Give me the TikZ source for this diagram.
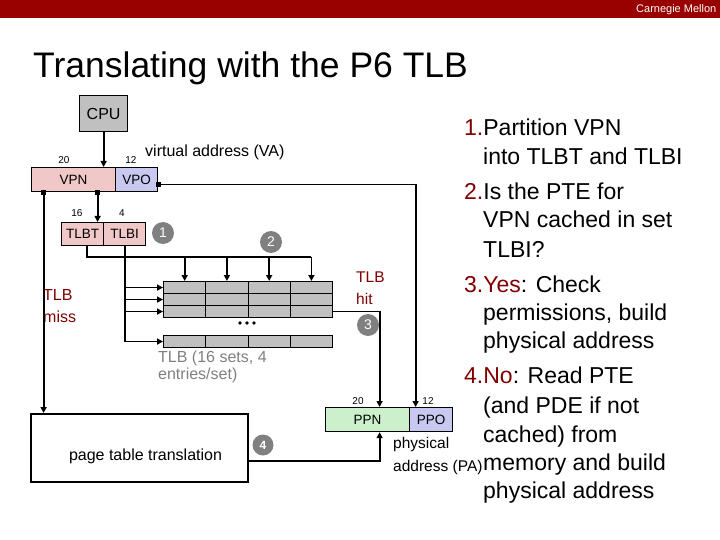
\documentclass[tikz,border=0pt]{standalone}
\usepackage{fontspec}
\setmainfont{Liberation Sans}
\usetikzlibrary{arrows.meta}
\definecolor{hdr}{RGB}{153,0,0}
\definecolor{dred}{RGB}{128,0,0}
\definecolor{vpnpink}{RGB}{240,200,200}
\definecolor{lav}{RGB}{200,200,240}
\definecolor{pgreen}{RGB}{204,240,204}
\definecolor{lgray}{RGB}{192,192,192}
\definecolor{mgray}{RGB}{128,128,128}
\newcommand{\fs}[1]{\fontsize{#1}{#1}\selectfont}
\begin{document}
\begin{tikzpicture}[x=1pt,y=-1pt,
  box/.style={draw=black, line width=1.2pt, inner sep=0pt, anchor=north west, font=\fs{13.5}},
  cell/.style={draw=black, line width=1.1pt, fill=lgray, inner sep=0pt, anchor=north west, minimum width=42.25pt, minimum height=12pt},
  wire/.style={line width=1.8pt},
  arr/.style={line width=1.8pt, -{Triangle[length=6pt,width=6pt]}},
  dot/.style={fill=black, rectangle, minimum size=5pt, inner sep=0pt},
  circ/.style={circle, fill=mgray, minimum size=22pt, inner sep=0pt, text=white, font=\fs{14}},
  txt/.style={inner sep=0pt, anchor=base west},
  small/.style={inner sep=0pt, font=\fs{10}},
  rt/.style={inner sep=0pt, anchor=base west, font=\fs{23}},
]
\useasboundingbox (0,0) rectangle (720,540);
% header
\fill[hdr] (0,0) rectangle (720,18);
\node[txt, text=white, font=\fs{11}] (brand) at (636,12.5) {Carnegie Mellon};
\node[txt, font=\fs{35.5}] (title) at (33,78) {Translating with the P6 TLB};

% CPU and virtual address
\node[box, fill=lgray, minimum width=48pt, minimum height=36pt, font=\fs{16}] (cpu) at (79,95) {CPU};
\node[box, fill=vpnpink, minimum width=84pt, minimum height=24pt] (vpn) at (31,167) {VPN};
\node[box, fill=lav, minimum width=42pt, minimum height=24pt] (vpo) at (115,167) {VPO};
\node[small] (n20a) at (64,160) {20};
\node[small] (n12a) at (131,160) {12};
\node[txt, font=\fs{16}] (va) at (145,157) {virtual address (VA)};

\node[box, fill=vpnpink, minimum width=42pt, minimum height=23pt] (tlbt) at (61,222) {TLBT};
\node[box, fill=vpnpink, minimum width=42pt, minimum height=23pt] (tlbi) at (103,222) {TLBI};
\node[small] (n16) at (77,213) {16};
\node[small] (n4) at (122,213) {4};

% TLB
\foreach \r/\y in {1/281,2/293,3/305,4/335}{
  \foreach \c in {1,...,4}{
    \node[cell] (t\r\c) at ({163+42.25*(\c-1)},\y) {};
  }
}
\fill (240,323) circle (1.8);
\fill (247,323) circle (1.8);
\fill (254,323) circle (1.8);
\node[txt, text=mgray, font=\fs{16}] (tlbcap1) at (158,362) {TLB (16 sets, 4};
\node[txt, text=mgray, font=\fs{16}] (tlbcap2) at (158,379) {entries/set)};

% physical address
\node[box, fill=pgreen, minimum width=84pt, minimum height=24pt] (ppn) at (325,407) {PPN};
\node[box, fill=lav, minimum width=43pt, minimum height=24pt] (ppo) at (409,407) {PPO};
\node[small] (n20b) at (358,401) {20};
\node[small] (n12b) at (428,401) {12};
\node[txt, font=\fs{15.5}] (pa1) at (393,448) {physical};
\node[txt, font=\fs{15.5}] (pa2) at (393,471) {address (PA)};

% page table translation
\node[box, line width=1.6pt, minimum width=217pt, minimum height=68pt] (ptt) at (30,413) {};
\node[inner sep=0pt, font=\fs{16}] (pttl) at (145.5,456) {page table translation};

% labels
\node[txt, text=dred, font=\fs{16}] (miss1) at (43,300) {TLB};
\node[txt, text=dred, font=\fs{16}] (miss2) at (43,322) {miss};
\node[txt, text=dred, font=\fs{15.5}] (hit1) at (356,282) {TLB};
\node[txt, text=dred, font=\fs{15.5}] (hit2) at (356,304) {hit};

% circles
\node[circ] (c1) at (163,233) {1};
\node[circ] (c2) at (271,242) {2};
\node[circ] (c3) at (368,325) {3};
\node[circ, minimum size=21pt, font=\fs{12}\bfseries] (c4) at (263,445) {4};

% connectors
\draw[arr] (cpu.south) -- (cpu.south |- vpn.north);
\coordinate (d1) at ([xshift=-30pt]vpn.south);
\coordinate (d2) at ([xshift=24pt]vpn.south);
\coordinate (d3) at ([yshift=-5pt]vpo.east);
\draw[arr] (d1) -- (d1 |- ptt.north);
\draw[arr] (d2) -- (d2 |- tlbt.north);
\draw[arr] (d3) -| ([xshift=-15.5pt]ppo.north);
\node[dot] at (d1) {};
\node[dot] at (d2) {};
\node[dot] at (d3) {};

\coordinate (busend) at (t14.north |- 0,257);
\draw[wire] ([xshift=4pt]tlbt.south) |- (busend);
\foreach \c in {1,...,4}{
  \draw[arr] (t1\c.north |- busend) -- (t1\c.north);
}
\draw[wire] (tlbi.south) -- (tlbi.south |- t41.west);
\foreach \r in {1,...,4}{
  \draw[arr] (tlbi.south |- t\r1.west) -- (t\r1.west);
}
\draw[arr] (t34.east) -| ([xshift=12pt]ppn.north);
\draw[arr] ([yshift=-13pt]ptt.east) -| ([xshift=12pt]ppn.south);

% right text
\node[rt] (l1) at (464,136) {\textcolor{dred}{1.}Partition VPN};
\node[rt] (l2) at (483,164.5) {into TLBT and TLBI};
\node[rt] (l3) at (464,200) {\textcolor{dred}{2.}Is the PTE for};
\node[rt] (l4) at (483,228) {VPN cached in set};
\node[rt] (l5) at (483,257) {TLBI?};
\node[rt] (l6) at (464,292) {\textcolor{dred}{3.Yes}: Check};
\node[rt] (l7) at (483,320) {permissions, build};
\node[rt] (l8) at (483,348) {physical address};
\node[rt] (l9) at (464,383) {\textcolor{dred}{4.No}: Read PTE};
\node[rt] (l10) at (483,413) {(and PDE if not};
\node[rt] (l11) at (483,442) {cached) from};
\node[rt] (l12) at (483,470) {memory and build};
\node[rt] (l13) at (483,498) {physical address};
\end{tikzpicture}
\end{document}
